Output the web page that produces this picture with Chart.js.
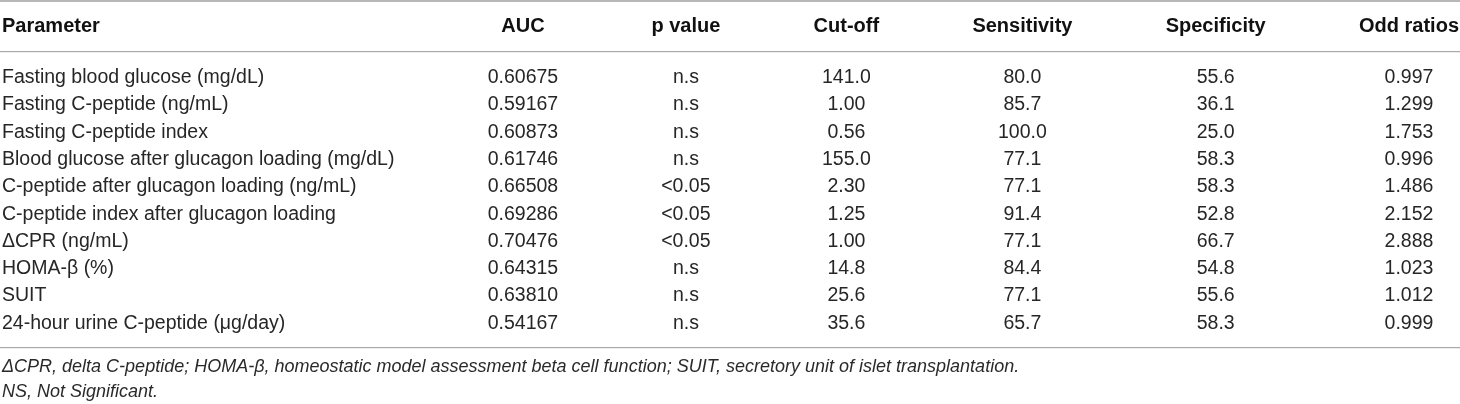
<!DOCTYPE html>
<html>
<head>
<meta charset="utf-8">
<script src="https://cdn.jsdelivr.net/npm/chart.js@4.4.1/dist/chart.umd.min.js"></script>
<style>
  html, body { margin: 0; padding: 0; background: #ffffff; }
  #wrap { width: 1460px; height: 404px; position: relative; }
</style>
</head>
<body>
<div id="wrap"><canvas id="c"></canvas></div>
<script>
// ---------------- data ----------------
const rowHeader = 'Parameter';
const parameters = [
  'Fasting blood glucose (mg/dL)',
  'Fasting C-peptide (ng/mL)',
  'Fasting C-peptide index',
  'Blood glucose after glucagon loading (mg/dL)',
  'C-peptide after glucagon loading (ng/mL)',
  'C-peptide index after glucagon loading',
  '\u0394CPR (ng/mL)',
  'HOMA-\u03b2 (%)',
  'SUIT',
  '24-hour urine C-peptide (\u03bcg/day)'
];
const columns = ['AUC', 'p value', 'Cut-off', 'Sensitivity', 'Specificity', 'Odd ratios'];
const auc = [0.60675, 0.59167, 0.60873, 0.61746, 0.66508, 0.69286, 0.70476, 0.64315, 0.63810, 0.54167];
const pValue = ['n.s', 'n.s', 'n.s', 'n.s', '<0.05', '<0.05', '<0.05', 'n.s', 'n.s', 'n.s'];
const cutOff = ['141.0', '1.00', '0.56', '155.0', '2.30', '1.25', '1.00', '14.8', '25.6', '35.6'];
const sensitivity = [80.0, 85.7, 100.0, 77.1, 77.1, 91.4, 77.1, 84.4, 77.1, 65.7];
const specificity = [55.6, 36.1, 25.0, 58.3, 58.3, 52.8, 66.7, 54.8, 55.6, 58.3];
const oddRatios = [0.997, 1.299, 1.753, 0.996, 1.486, 2.152, 2.888, 1.023, 1.012, 0.999];
const footnotes = [
  '\u0394CPR, delta C-peptide; HOMA-\u03b2, homeostatic model assessment beta cell function; SUIT, secretory unit of islet transplantation.',
  'NS, Not Significant.'
];

// ---------------- cell text per column ----------------
const cellText = [
  auc.map(v => v.toFixed(5)),
  pValue,
  cutOff,
  sensitivity.map(v => v.toFixed(1)),
  specificity.map(v => v.toFixed(1)),
  oddRatios.map(v => v.toFixed(3))
];

// ---------------- styles ----------------
const FAMILY = "'Liberation Sans', Arial, Helvetica, sans-serif";
const BODY_SIZE = 19.5;
const HEAD_SIZE = 20;
const HEAD_LH = 76;
const BODY_COLOR = '#262626';
const HEAD_COLOR = '#111111';
const W = 1460, PAD_LEFT = 2, PAD_RIGHT = 1;

// measure text the way an auto table layout would
const mctx = document.createElement('canvas').getContext('2d');
function tw(text, font) { mctx.font = font; return mctx.measureText(text).width; }
const bodyFont = `normal ${BODY_SIZE}px ${FAMILY}`;
const headFont = `normal bold ${HEAD_SIZE}px ${FAMILY}`;
const colWidths = columns.map((h, i) =>
  Math.max(tw(h, headFont), ...cellText[i].map(t => tw(t, bodyFont))));
const paramWidth = Math.max(tw(rowHeader, headFont), ...parameters.map(p => tw(p, bodyFont)));
const colGap = (W - PAD_LEFT - PAD_RIGHT - paramWidth - colWidths.reduce((a, b) => a + b, 0)) / columns.length;

// category scale whose columns are sized by their content
class TableColumnScale extends Chart.CategoryScale {
  getPixelForValue(value) {
    if (typeof value !== 'number') value = this.parse(value);
    if (value === null || value === undefined || isNaN(value)) return NaN;
    let x = this.left;
    for (let i = 0; i < value; i++) x += colWidths[i] + colGap;
    return x + colWidths[value] / 2;
  }
}
TableColumnScale.id = 'tablecolumns';
TableColumnScale.defaults = Chart.CategoryScale.defaults;
Chart.register(TableColumnScale);

const datasets = columns.map((col, ci) => ({
  label: col,
  data: parameters.map(p => ({ x: col, y: p })),
  cellText: cellText[ci],
  pointRadius: 0,
  pointHoverRadius: 0,
  showLine: false
}));

const tablePlugin = {
  id: 'tablePlugin',
  afterDatasetsDraw(chart) {
    const ctx = chart.ctx;
    ctx.save();
    ctx.font = bodyFont;
    ctx.fillStyle = BODY_COLOR;
    ctx.textAlign = 'center';
    ctx.textBaseline = 'middle';
    chart.data.datasets.forEach((ds, di) => {
      const meta = chart.getDatasetMeta(di);
      meta.data.forEach((el, i) => {
        ctx.fillText(ds.cellText[i], el.x, el.y);
      });
    });
    ctx.restore();
  },
  afterDraw(chart) {
    const ctx = chart.ctx;
    const { top, bottom } = chart.chartArea;
    const xs = chart.scales.x, ys = chart.scales.y;
    ctx.save();
    // rules
    ctx.fillStyle = '#b8b8b8';
    ctx.fillRect(0, 0, chart.width, 2);
    ctx.fillStyle = '#a9a9a9';
    ctx.fillRect(0, top - 13, chart.width, 1.2);
    ctx.fillRect(0, bottom + 10, chart.width, 1.2);
    // row header
    ctx.font = headFont;
    ctx.fillStyle = HEAD_COLOR;
    ctx.textAlign = 'left';
    ctx.textBaseline = 'middle';
    ctx.fillText(rowHeader, ys.left, xs.bottom - HEAD_LH / 2);
    ctx.restore();
  }
};

new Chart(document.getElementById('c'), {
  type: 'scatter',
  data: { datasets },
  plugins: [tablePlugin],
  options: {
    responsive: true,
    maintainAspectRatio: false,
    animation: false,
    events: [],
    layout: { padding: { top: 0, left: PAD_LEFT, right: PAD_RIGHT, bottom: 0 } },
    plugins: {
      legend: { display: false },
      tooltip: { enabled: false },
      title: {
        display: true,
        position: 'bottom',
        align: 'start',
        text: footnotes,
        color: '#2a2a2a',
        font: { family: FAMILY, size: 18, style: 'italic', weight: 'normal', lineHeight: '25px' },
        padding: { top: 17, bottom: 0 }
      }
    },
    scales: {
      x: {
        type: 'tablecolumns',
        position: 'top',
        labels: columns,
        offset: true,
        grid: { display: false, drawTicks: false },
        border: { display: false },
        ticks: {
          autoSkip: false, maxRotation: 0, minRotation: 0, padding: 0,
          color: HEAD_COLOR,
          font: { family: FAMILY, size: HEAD_SIZE, weight: 'bold', lineHeight: HEAD_LH + 'px' }
        },
        afterFit(scale) { scale.height = 64; }
      },
      y: {
        type: 'category',
        position: 'left',
        labels: parameters,
        offset: true,
        grid: { display: false, drawTicks: false },
        border: { display: false },
        ticks: {
          autoSkip: false, padding: 0, crossAlign: 'far',
          color: BODY_COLOR,
          font: { family: FAMILY, size: BODY_SIZE }
        },
        afterFit(scale) { scale.width = paramWidth + colGap; }
      }
    }
  }
});
</script>
</body>
</html>
